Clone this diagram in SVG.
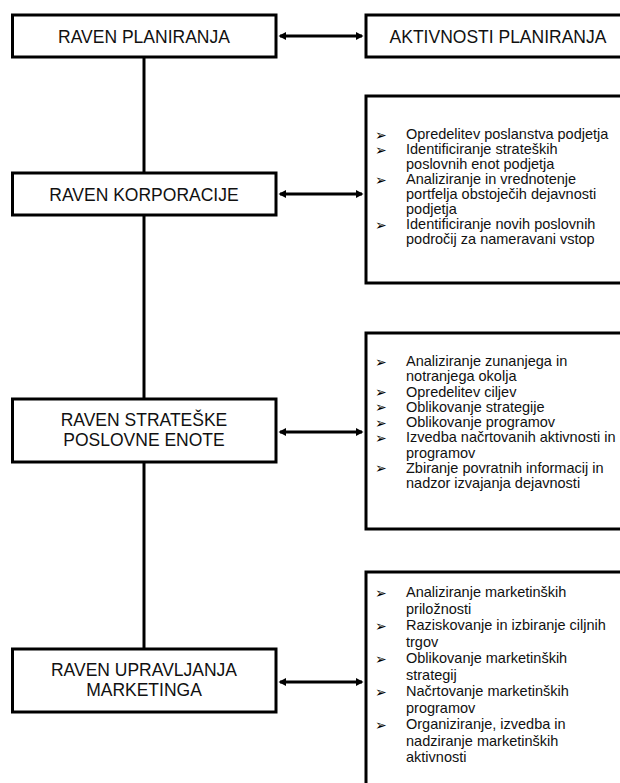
<svg xmlns="http://www.w3.org/2000/svg" width="620" height="783" viewBox="0 0 620 783">
  <style>
    .box { fill: #ffffff; stroke: #000000; stroke-width: 3; }
    .link { fill: none; stroke: #000000; stroke-width: 3; }
    .title { font-family: "Liberation Sans", Arial, sans-serif; font-size: 17.5px; fill: #111111; text-anchor: middle; }
    .item { font-family: "Liberation Sans", Arial, sans-serif; font-size: 14.5px; fill: #111111; }
    .bullet { font-family: "DejaVu Sans", sans-serif; font-size: 14px; fill: #000000; }
  </style>
  <defs>
    <marker id="head" markerUnits="userSpaceOnUse" markerWidth="9" markerHeight="9" refX="6" refY="4.5" orient="auto-start-reverse">
      <path d="M0,0.5 L7.5,4.5 L0,8.5 Z" fill="#000000"/>
    </marker>
  </defs>
  <rect width="620" height="783" fill="#ffffff"/>

  <!-- connectors -->
  <g id="connectors">
    <line class="link" x1="144" y1="57" x2="144" y2="173"/>
    <line class="link" x1="144" y1="215" x2="144" y2="399"/>
    <line class="link" x1="144" y1="462" x2="144" y2="649"/>
    <line class="link" x1="280" y1="36" x2="362" y2="36" marker-start="url(#head)" marker-end="url(#head)"/>
    <line class="link" x1="280" y1="194" x2="362" y2="194" marker-start="url(#head)" marker-end="url(#head)"/>
    <line class="link" x1="280" y1="432" x2="362" y2="432" marker-start="url(#head)" marker-end="url(#head)"/>
    <line class="link" x1="280" y1="682" x2="362" y2="682" marker-start="url(#head)" marker-end="url(#head)"/>
  </g>

  <!-- left column: planning levels -->
  <g id="raven-planiranja">
    <rect class="box" x="12.5" y="15" width="263.5" height="42"/>
    <text class="title" x="144" y="42.5">RAVEN PLANIRANJA</text>
  </g>
  <g id="raven-korporacije">
    <rect class="box" x="12.5" y="173" width="263.5" height="42"/>
    <text class="title" x="144" y="200.5">RAVEN KORPORACIJE</text>
  </g>
  <g id="raven-strateske">
    <rect class="box" x="12.5" y="399" width="263.5" height="63"/>
    <text class="title" x="144" y="426">RAVEN STRATEŠKE<tspan x="144" dy="20">POSLOVNE ENOTE</tspan></text>
  </g>
  <g id="raven-marketinga">
    <rect class="box" x="12.5" y="649" width="263.5" height="63"/>
    <text class="title" x="144" y="676">RAVEN UPRAVLJANJA<tspan x="144" dy="20">MARKETINGA</tspan></text>
  </g>

  <!-- right column: planning activities -->
  <g id="aktivnosti-planiranja">
    <rect class="box" x="366" y="15" width="264" height="42"/>
    <text class="title" x="498" y="42.5">AKTIVNOSTI PLANIRANJA</text>
  </g>

  <g id="aktivnosti-korporacije">
    <rect class="box" x="366" y="96" width="280" height="187"/>
    <g class="bullet">
      <text x="375" y="139.5">➢</text>
      <text x="375" y="154.5">➢</text>
      <text x="375" y="184.5">➢</text>
      <text x="375" y="229.5">➢</text>
    </g>
    <text class="item">
      <tspan x="406" y="139">Opredelitev poslanstva podjetja</tspan>
      <tspan x="406" y="154">Identificiranje strateških</tspan>
      <tspan x="406" y="169">poslovnih enot podjetja</tspan>
      <tspan x="406" y="184">Analiziranje in vrednotenje</tspan>
      <tspan x="406" y="199">portfelja obstoječih dejavnosti</tspan>
      <tspan x="406" y="214">podjetja</tspan>
      <tspan x="406" y="229">Identificiranje novih poslovnih</tspan>
      <tspan x="406" y="244">področij za nameravani vstop</tspan>
    </text>
  </g>

  <g id="aktivnosti-poslovne-enote">
    <rect class="box" x="366" y="333" width="280" height="196"/>
    <g class="bullet">
      <text x="375" y="366.5">➢</text>
      <text x="375" y="397">➢</text>
      <text x="375" y="412.25">➢</text>
      <text x="375" y="427.5">➢</text>
      <text x="375" y="442.75">➢</text>
      <text x="375" y="473.25">➢</text>
    </g>
    <text class="item">
      <tspan x="406" y="366">Analiziranje zunanjega in</tspan>
      <tspan x="406" y="381.25">notranjega okolja</tspan>
      <tspan x="406" y="396.5">Opredelitev ciljev</tspan>
      <tspan x="406" y="411.75">Oblikovanje strategije</tspan>
      <tspan x="406" y="427">Oblikovanje programov</tspan>
      <tspan x="406" y="442.25">Izvedba načrtovanih aktivnosti in</tspan>
      <tspan x="406" y="457.5">programov</tspan>
      <tspan x="406" y="472.75">Zbiranje povratnih informacij in</tspan>
      <tspan x="406" y="488">nadzor izvajanja dejavnosti</tspan>
    </text>
  </g>

  <g id="aktivnosti-marketinga">
    <rect class="box" x="366" y="572" width="280" height="260"/>
    <g class="bullet">
      <text x="375" y="597.5">➢</text>
      <text x="375" y="630.5">➢</text>
      <text x="375" y="663.5">➢</text>
      <text x="375" y="696.5">➢</text>
      <text x="375" y="729.5">➢</text>
    </g>
    <text class="item">
      <tspan x="406" y="597">Analiziranje marketinških</tspan>
      <tspan x="406" y="613.5">priložnosti</tspan>
      <tspan x="406" y="630">Raziskovanje in izbiranje ciljnih</tspan>
      <tspan x="406" y="646.5">trgov</tspan>
      <tspan x="406" y="663">Oblikovanje marketinških</tspan>
      <tspan x="406" y="679.5">strategij</tspan>
      <tspan x="406" y="696">Načrtovanje marketinških</tspan>
      <tspan x="406" y="712.5">programov</tspan>
      <tspan x="406" y="729">Organiziranje, izvedba in</tspan>
      <tspan x="406" y="745.5">nadziranje marketinških</tspan>
      <tspan x="406" y="762">aktivnosti</tspan>
    </text>
  </g>
</svg>
